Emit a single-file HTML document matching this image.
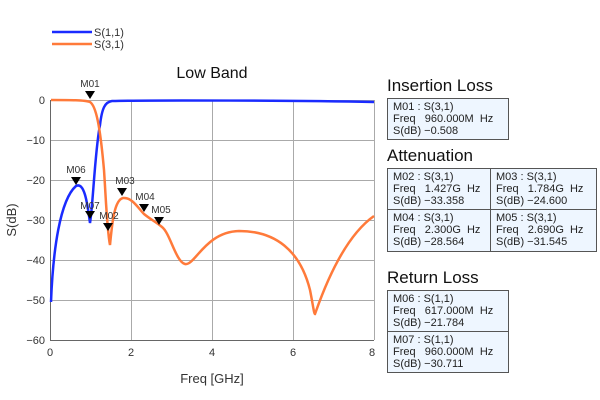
<!DOCTYPE html>
<html><head><meta charset="utf-8"><style>
body{margin:0;background:#fff;width:600px;height:400px;overflow:hidden;font-family:"Liberation Sans",sans-serif}
.t{position:absolute;font-size:17px;color:#111}
.b{position:absolute;background:#eef6ff;border:1px solid #555;box-sizing:border-box;font-size:11px;line-height:12px;color:#222;padding:2px 0 0 5px}
</style></head><body>
<svg width="600" height="400" style="position:absolute;left:0;top:0" font-family="Liberation Sans, sans-serif">
<g stroke="#aaa" stroke-width="1">
<line x1="131.5" y1="100" x2="131.5" y2="340"/><line x1="212.5" y1="100" x2="212.5" y2="340"/><line x1="293.5" y1="100" x2="293.5" y2="340"/><line x1="374.5" y1="100" x2="374.5" y2="340"/>
<line x1="50" y1="100.5" x2="374" y2="100.5"/><line x1="50" y1="140.5" x2="374" y2="140.5"/><line x1="50" y1="180.5" x2="374" y2="180.5"/><line x1="50" y1="220.5" x2="374" y2="220.5"/><line x1="50" y1="260.5" x2="374" y2="260.5"/><line x1="50" y1="300.5" x2="374" y2="300.5"/>
</g>
<line x1="50.5" y1="100" x2="50.5" y2="340" stroke="#666"/><line x1="50" y1="340.5" x2="374" y2="340.5" stroke="#666"/>
<g font-size="11" fill="#333" text-anchor="end">
<text x="45" y="104">0</text><text x="45" y="144">−10</text><text x="45" y="184">−20</text><text x="45" y="224">−30</text><text x="45" y="264">−40</text><text x="45" y="304">−50</text><text x="45" y="344">−60</text>
</g>
<g font-size="11" fill="#333" text-anchor="middle">
<text x="50" y="356">0</text><text x="131" y="356">2</text><text x="212" y="356">4</text><text x="293" y="356">6</text><text x="372" y="356">8</text>
</g>
<text x="212" y="383" font-size="13" fill="#333" text-anchor="middle">Freq [GHz]</text>
<text transform="translate(16,220) rotate(-90)" font-size="13" fill="#333" text-anchor="middle">S(dB)</text>
<text x="212" y="78" font-size="16" fill="#111" text-anchor="middle">Low Band</text>
<line x1="52" y1="32" x2="92" y2="32" stroke="#1a2bff" stroke-width="2.5"/>
<line x1="52" y1="44" x2="92" y2="44" stroke="#ff7a3a" stroke-width="2.5"/>
<text x="94" y="36" font-size="11" fill="#333">S(1,1)</text>
<text x="94" y="48" font-size="11" fill="#333">S(3,1)</text>
<path d="M51,302 C53,250 60,200 76,186 C84,182 87,200 90,223 C93,205 95,150 100,125 C102,108 105,102 112,101 C150,100 300,100.5 374,102" fill="none" stroke="#1a2bff" stroke-width="2.5"/>
<path d="M51,100 C70,100 85,100 90,102 C96,106 100,125 104,170 C106,200 107,230 110,245 C112,225 114,200 123,198 C132,197 138,208 144,214 C150,219 156,222 162,227 C170,233 176,262 185,264 C195,266 205,232 239,231 C275,231 300,250 310,290 C313,305 314,314 315,314 C320,300 340,240 374,216" fill="none" stroke="#ff7a3a" stroke-width="2.5"/>
<g fill="#000">
<path d="M85,91 L95,91 L90,99 Z"/><path d="M71,177 L81,177 L76,185 Z"/><path d="M85,211 L95,211 L90,219 Z"/><path d="M103,223 L113,223 L108,231 Z"/><path d="M117,188 L127,188 L122,196 Z"/><path d="M139,204 L149,204 L144,212 Z"/><path d="M154,217 L164,217 L159,225 Z"/>
</g>
<g font-size="10" fill="#333" text-anchor="middle">
<text x="90" y="87">M01</text><text x="76" y="173">M06</text><text x="90" y="209">M07</text><text x="109" y="219">M02</text><text x="125" y="184">M03</text><text x="145" y="200">M04</text><text x="161" y="213">M05</text>
</g>
</svg>
<div class="t" style="left:387px;top:76px">Insertion Loss</div>
<div class="b" style="left:387px;top:98px;width:122px;height:42px">M01 : S(3,1)<br>Freq&nbsp;&nbsp; 960.000M&nbsp; Hz<br>S(dB) −0.508</div>
<div class="t" style="left:387px;top:146px">Attenuation</div>
<div class="b" style="left:387px;top:168px;width:104px;height:42px">M02 : S(3,1)<br>Freq&nbsp;&nbsp; 1.427G&nbsp; Hz<br>S(dB) −33.358</div>
<div class="b" style="left:490px;top:168px;width:107px;height:42px">M03 : S(3,1)<br>Freq&nbsp;&nbsp; 1.784G&nbsp; Hz<br>S(dB) −24.600</div>
<div class="b" style="left:387px;top:209px;width:104px;height:43px">M04 : S(3,1)<br>Freq&nbsp;&nbsp; 2.300G&nbsp; Hz<br>S(dB) −28.564</div>
<div class="b" style="left:490px;top:209px;width:107px;height:43px">M05 : S(3,1)<br>Freq&nbsp;&nbsp; 2.690G&nbsp; Hz<br>S(dB) −31.545</div>
<div class="t" style="left:387px;top:268px">Return Loss</div>
<div class="b" style="left:387px;top:290px;width:122px;height:42px">M06 : S(1,1)<br>Freq&nbsp;&nbsp; 617.000M&nbsp; Hz<br>S(dB) −21.784</div>
<div class="b" style="left:387px;top:331px;width:122px;height:42px">M07 : S(1,1)<br>Freq&nbsp;&nbsp; 960.000M&nbsp; Hz<br>S(dB) −30.711</div>
</body></html>
